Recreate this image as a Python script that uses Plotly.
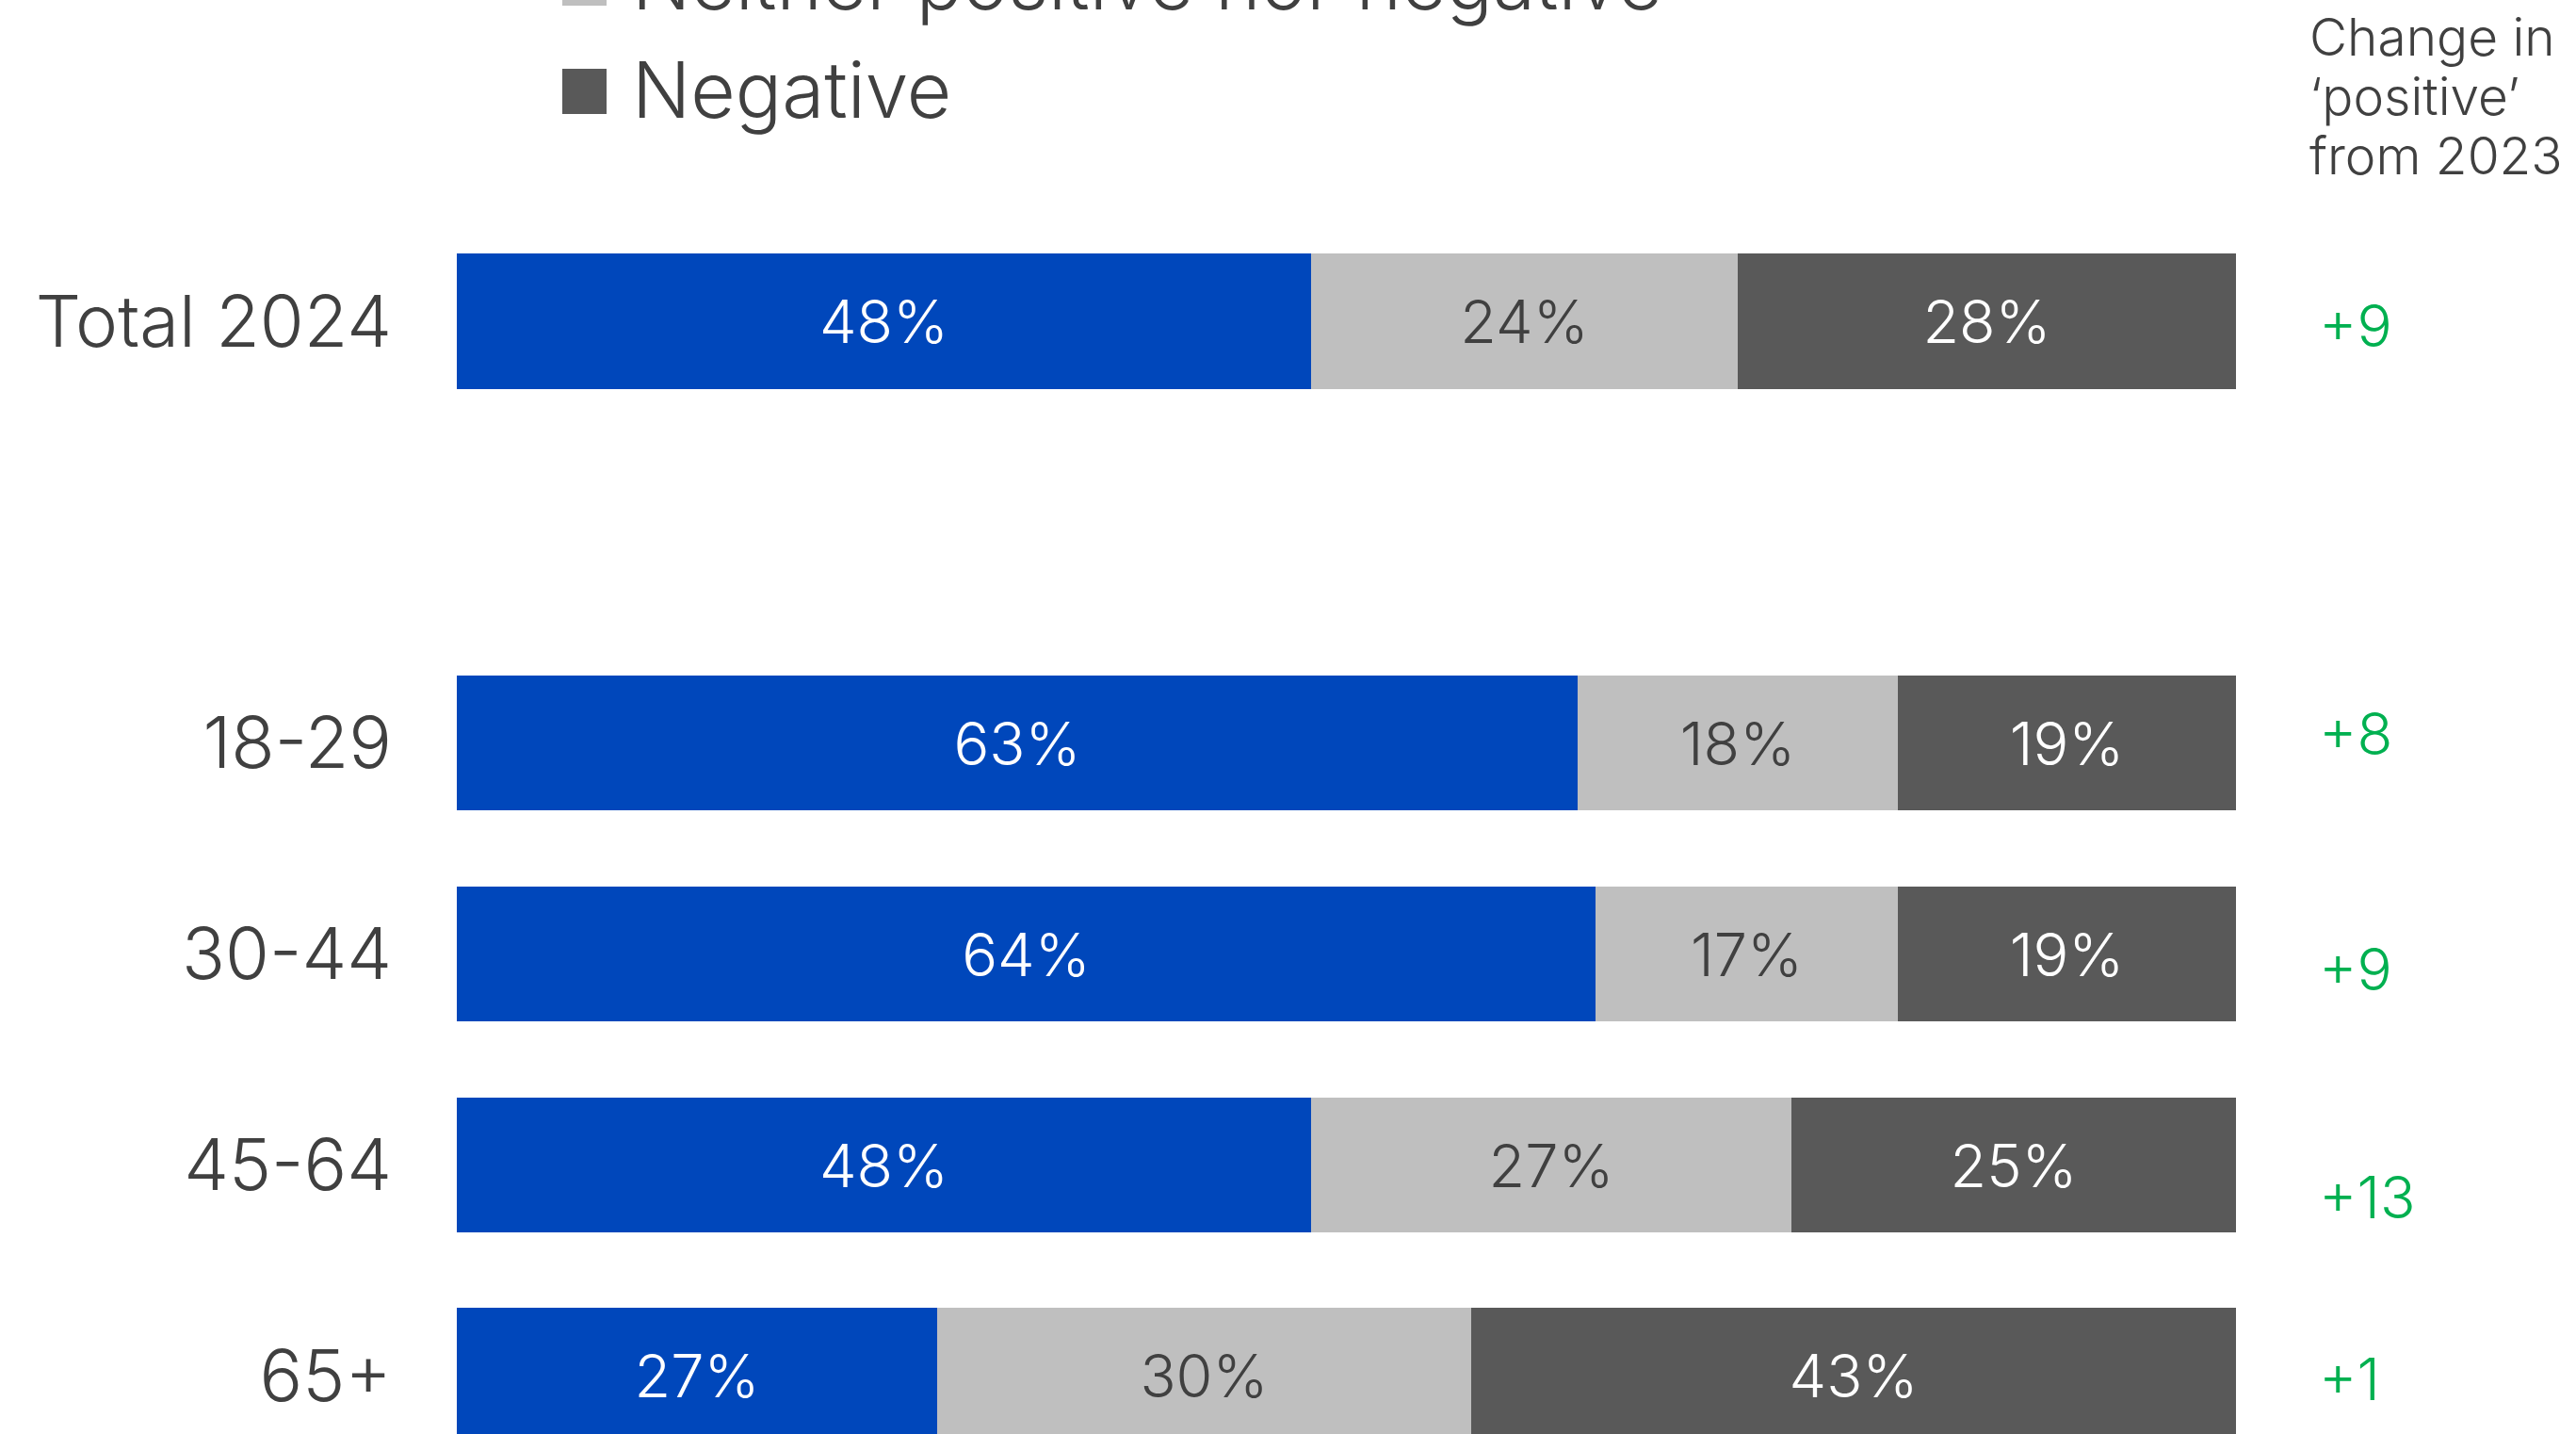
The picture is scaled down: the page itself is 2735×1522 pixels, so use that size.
import plotly.graph_objects as go

# Survey results: share of respondents by sentiment, total and by age group
categories = ["Total 2024", "18-29", "30-44", "45-64", "65+"]
series_names = ["Positive", "Neither positive nor negative", "Negative"]
positive = [48, 63, 64, 48, 27]
neutral = [24, 18, 17, 27, 30]
negative = [28, 19, 19, 25, 43]
change_from_2023 = ["+9", "+8", "+9", "+13", "+1"]
header_lines = ["Change in", "\u2018positive\u2019", "from 2023"]

FONT = "Inter"
TEXT_GREY = "#404040"
colors = ["#0047BB", "#BFBFBF", "#595959"]
label_colors = ["#FFFFFF", TEXT_GREY, "#FFFFFF"]

W, H = 2735, 1522
M_L, M_R = 485, 361

# The total row sits apart from the age rows, one empty slot between them
slots = [i if i == 0 else i + 1 for i in range(len(categories))]

fig = go.Figure()
for name, vals, col, tcol in zip(series_names, [positive, neutral, negative], colors, label_colors):
    fig.add_trace(go.Bar(
        y=slots, x=vals, name=name, orientation="h",
        marker=dict(color=col, line=dict(width=0)),
        width=0.64,
        text=[f"{v}%" for v in vals],
        textposition="inside", insidetextanchor="middle",
        textfont=dict(family=FONT, size=63, color=tcol, weight=300),
        constraintext="none",
        showlegend=False,
        hoverinfo="skip",
    ))

annotations = []
shapes = []

# Hand-drawn legend with large swatches; the top of the page shows the
# last two entries, the first one sits above the visible area
legend_centers = [-18, 97]
for name, col, yc in zip(series_names[1:], colors[1:], legend_centers):
    shapes.append(dict(
        type="rect", xref="paper", yref="paper",
        xsizemode="pixel", ysizemode="pixel",
        xanchor=0, yanchor=1,
        x0=112, x1=159, y0=-(yc - 24), y1=-(yc + 24),
        fillcolor=col, line=dict(width=0),
    ))
    annotations.append(dict(
        text=name, xref="paper", yref="paper", x=0, y=1,
        xanchor="left", yanchor="middle", xshift=184, yshift=-yc + 2,
        showarrow=False,
        font=dict(family=FONT, size=82, color=TEXT_GREY, weight=300),
    ))

# Column header on the right
for i, line in enumerate(header_lines):
    annotations.append(dict(
        text=line, xref="paper", yref="paper", x=1, y=1,
        xanchor="left", yanchor="middle", xshift=76, yshift=-(39 + 63 * i),
        showarrow=False,
        font=dict(family=FONT, size=55, color=TEXT_GREY, weight=300),
    ))

# Change in 'positive' per row
label_nudge = [-4, 10, -16, -34, -3]
for s, txt, dy in zip(slots, change_from_2023, label_nudge):
    annotations.append(dict(
        text=txt, xref="paper", yref="y", x=1, y=s,
        xanchor="left", yanchor="middle", xshift=86, yshift=dy,
        showarrow=False,
        font=dict(family=FONT, size=62, color="#00B050", weight=300),
    ))

px_per_slot = 223.8
y_top = -341 / px_per_slot
y_bottom = y_top + H / px_per_slot

fig.update_layout(
    width=W, height=H,
    barmode="stack",
    plot_bgcolor="white", paper_bgcolor="white",
    margin=dict(l=M_L, r=M_R, t=0, b=0, pad=0, autoexpand=False),
    bargap=0,
    showlegend=False,
    annotations=annotations,
    shapes=shapes,
    xaxis=dict(range=[0, 100], visible=False, fixedrange=True),
    yaxis=dict(
        range=[y_bottom, y_top],
        tickmode="array", tickvals=slots, ticktext=categories,
        ticks="", showgrid=False, zeroline=False, showline=False,
        ticklabelstandoff=68,
        tickfont=dict(family=FONT, size=76, color=TEXT_GREY, weight=300),
    ),
)

fig.write_html("out.html", config={"displayModeBar": False})
